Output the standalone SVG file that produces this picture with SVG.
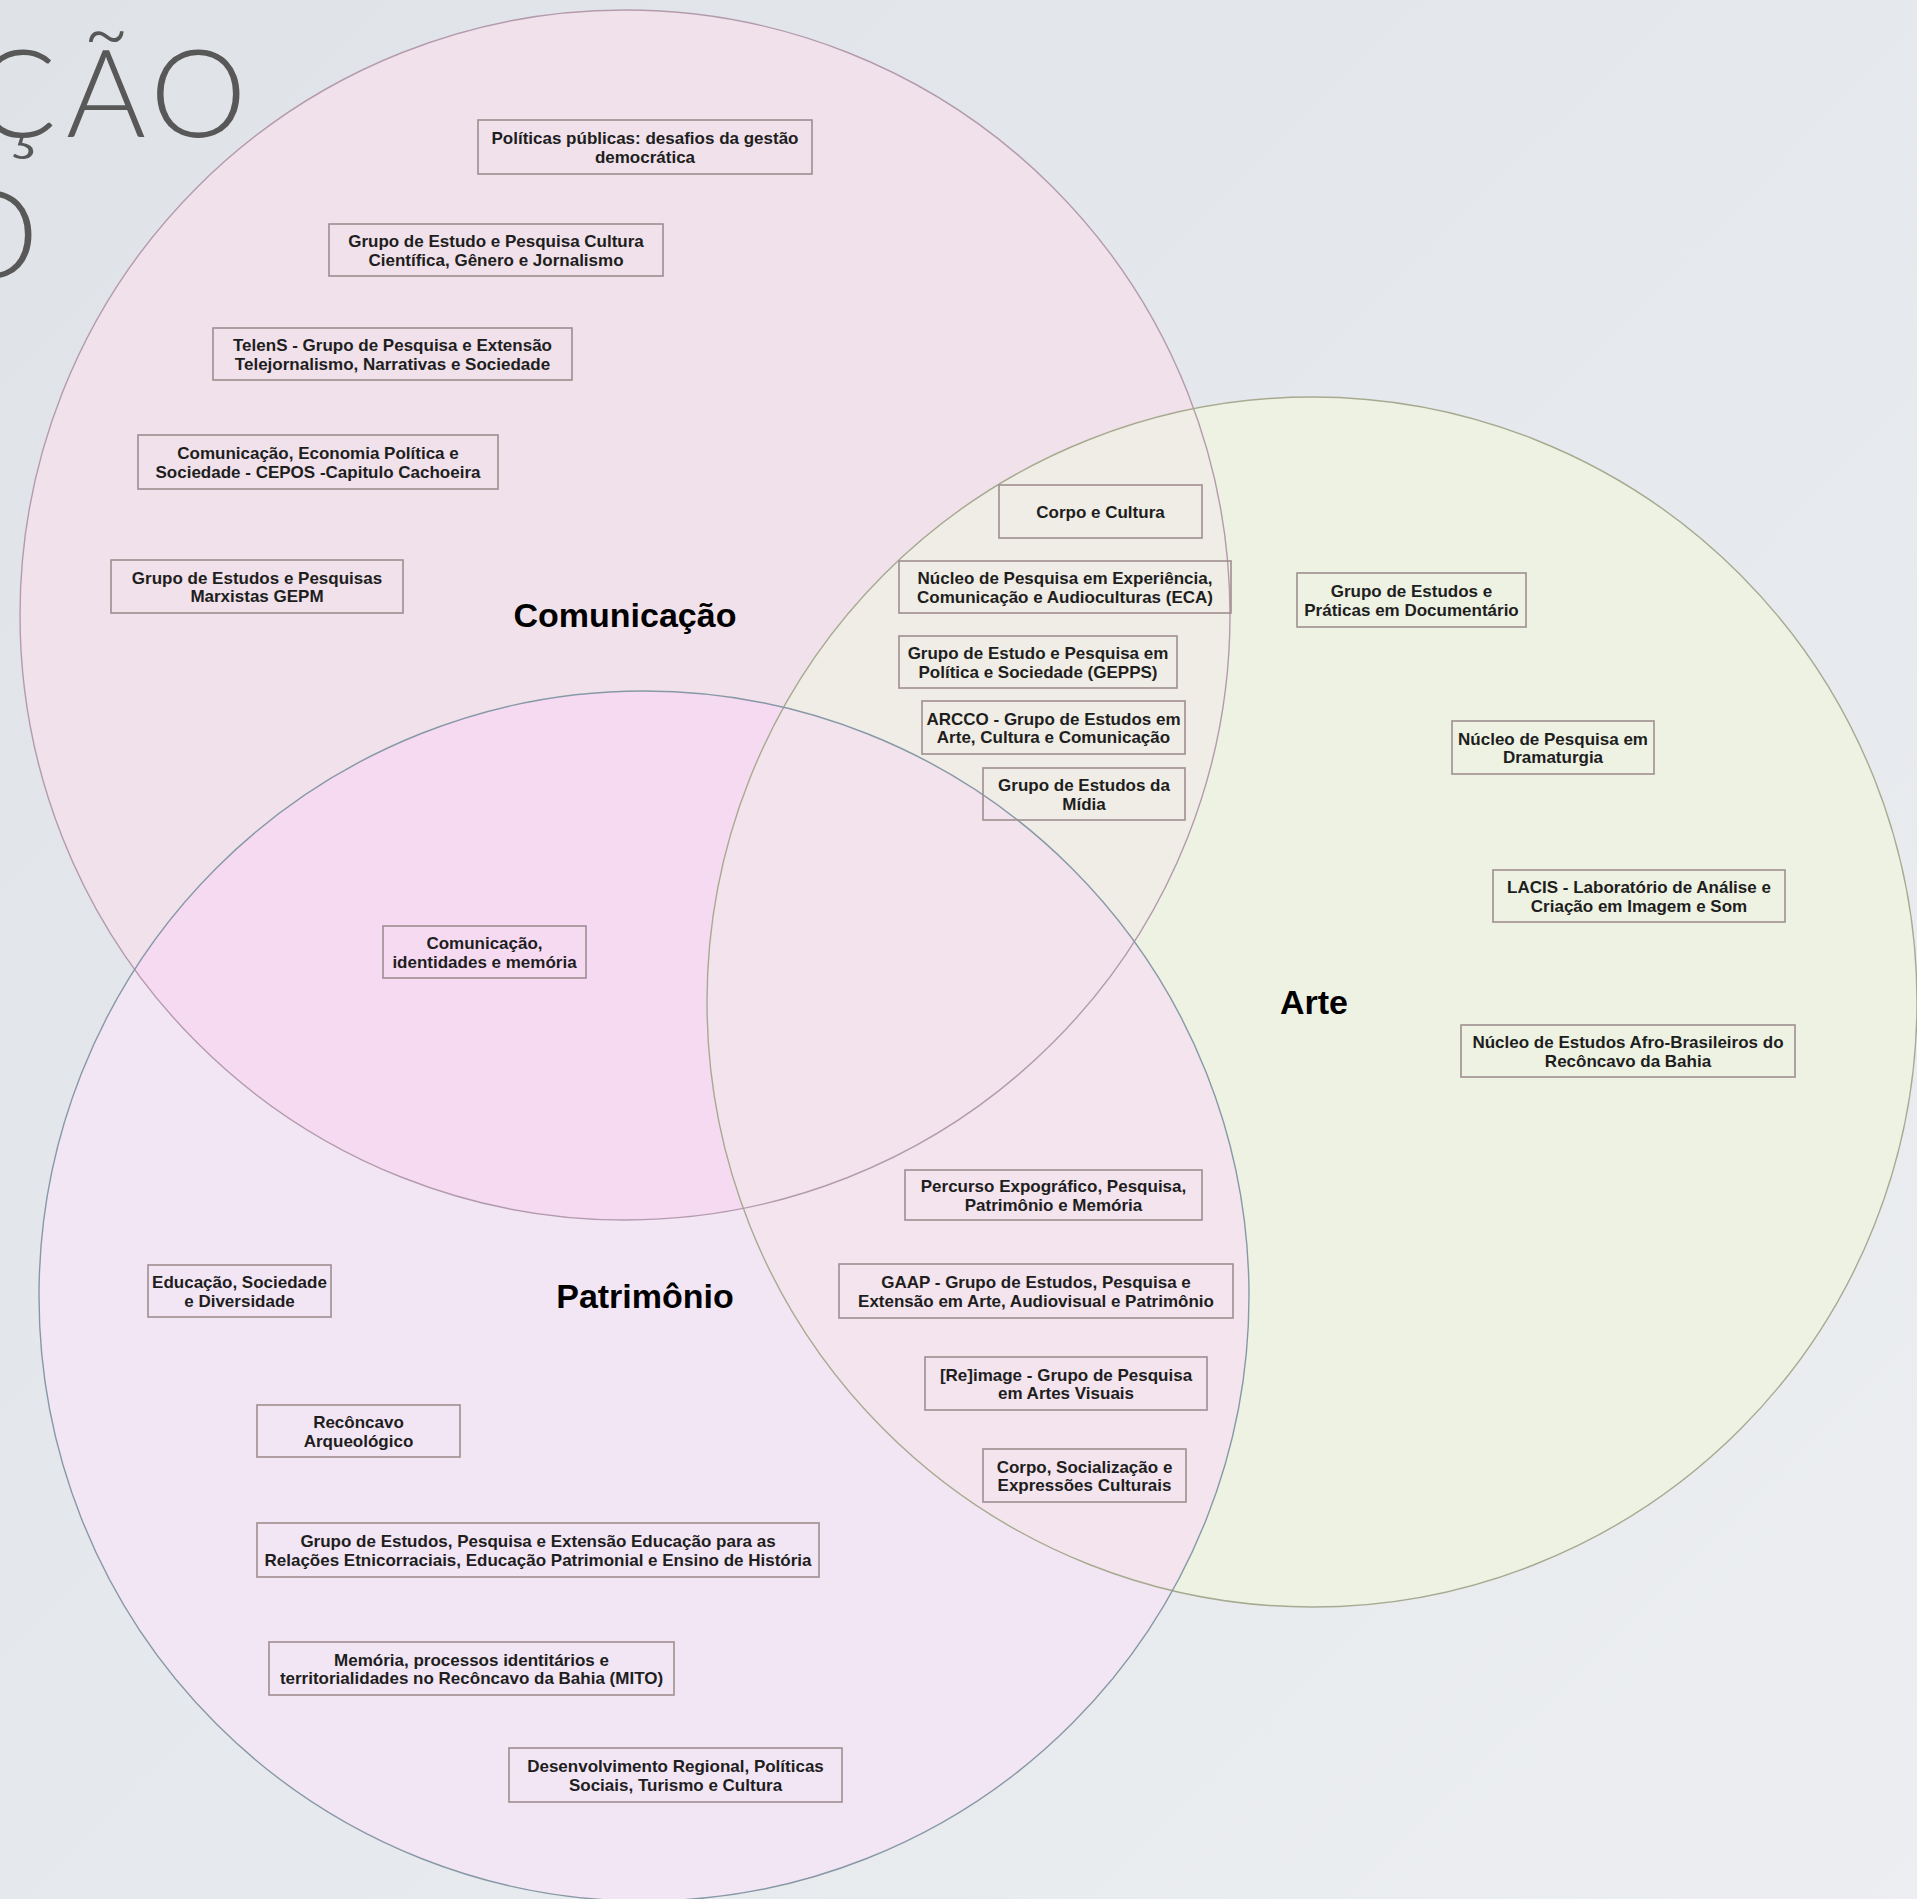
<svg xmlns="http://www.w3.org/2000/svg" width="1917" height="1899" viewBox="0 0 1917 1899">
<style>
.box rect{fill:none;stroke:#9f8e8f;stroke-width:1.6}
.box text{font-family:"Liberation Sans",Arial,sans-serif;font-weight:bold;font-size:17px;fill:#1e1e1e;text-anchor:middle}
.lbl{font-family:"Liberation Sans",Arial,sans-serif;font-weight:bold;font-size:34px;fill:#000;text-anchor:middle}
.title{font-family:Lato,"Open Sans",sans-serif;font-weight:300;font-size:122px;fill:#585858}
</style>
<defs>
<linearGradient id="bg" x1="0" y1="0" x2="1" y2="1">
<stop offset="0" stop-color="#dfe3e8"/>
<stop offset="1" stop-color="#eceef1"/>
</linearGradient>
<clipPath id="cCom"><circle cx="625" cy="615" r="605"/></clipPath>
<clipPath id="cArte"><circle cx="1312" cy="1002" r="605"/></clipPath>
</defs>
<rect width="1917" height="1899" fill="url(#bg)"/>
<g id="title">
<text class="title" y="137"><tspan x="-26">Ç</tspan><tspan x="66">Ã</tspan><tspan x="150">O</tspan></text>
<text class="title" x="-58" y="278">O</text>
</g>
<g id="sets">
<circle cx="625" cy="615" r="605" fill="#f0e1ea"/>
<circle cx="1312" cy="1002" r="605" fill="#eef2e3"/>
<circle cx="644" cy="1296" r="605" fill="#f3e6f4"/>
<circle cx="1312" cy="1002" r="605" fill="#efede5" clip-path="url(#cCom)"/>
<circle cx="644" cy="1296" r="605" fill="#f5daf2" clip-path="url(#cCom)"/>
<circle cx="644" cy="1296" r="605" fill="#f3e4ed" clip-path="url(#cArte)"/>
<g clip-path="url(#cCom)"><circle cx="644" cy="1296" r="605" fill="#f2e3ec" clip-path="url(#cArte)"/></g>
<circle cx="625" cy="615" r="605" fill="none" stroke="#b39bad" stroke-width="1.4"/>
<circle cx="1312" cy="1002" r="605" fill="none" stroke="#a7aa91" stroke-width="1.4"/>
<circle cx="644" cy="1296" r="605" fill="none" stroke="#8798a6" stroke-width="1.4"/>
</g>
<g id="connectors"/>
<g id="labels">
<text id="lbl-comunicacao" class="lbl" x="625" y="627">Comunicação</text>
<text id="lbl-arte" class="lbl" x="1314" y="1014">Arte</text>
<text id="lbl-patrimonio" class="lbl" x="645" y="1308">Patrimônio</text>
</g>
<g id="n1" class="box"><rect x="478" y="120" width="334" height="54"/><text x="645" y="144">Políticas públicas: desafios da gestão</text><text x="645" y="162.5">democrática</text></g>
<g id="n2" class="box"><rect x="329" y="224" width="334" height="52"/><text x="496" y="247">Grupo de Estudo e Pesquisa Cultura</text><text x="496" y="265.5">Científica, Gênero e Jornalismo</text></g>
<g id="n3" class="box"><rect x="213" y="328" width="359" height="52"/><text x="392.5" y="351">TelenS - Grupo de Pesquisa e Extensão</text><text x="392.5" y="369.5">Telejornalismo, Narrativas e Sociedade</text></g>
<g id="n4" class="box"><rect x="138" y="435" width="360" height="54"/><text x="318" y="459">Comunicação, Economia Política e</text><text x="318" y="477.5">Sociedade - CEPOS -Capitulo Cachoeira</text></g>
<g id="n5" class="box"><rect x="111" y="560" width="292" height="53"/><text x="257" y="583.5">Grupo de Estudos e Pesquisas</text><text x="257" y="602">Marxistas GEPM</text></g>
<g id="n6" class="box"><rect x="999" y="485" width="203" height="53"/><text x="1100.5" y="517.5">Corpo e Cultura</text></g>
<g id="n7" class="box"><rect x="899" y="561" width="332" height="52"/><text x="1065" y="584">Núcleo de Pesquisa em Experiência,</text><text x="1065" y="602.5">Comunicação e Audioculturas (ECA)</text></g>
<g id="n8" class="box"><rect x="899" y="636" width="278" height="52"/><text x="1038" y="659">Grupo de Estudo e Pesquisa em</text><text x="1038" y="677.5">Política e Sociedade (GEPPS)</text></g>
<g id="n9" class="box"><rect x="922" y="701" width="263" height="53"/><text x="1053.5" y="724.5">ARCCO - Grupo de Estudos em</text><text x="1053.5" y="743">Arte, Cultura e Comunicação</text></g>
<g id="n10" class="box"><rect x="983" y="768" width="202" height="52"/><text x="1084" y="791">Grupo de Estudos da</text><text x="1084" y="809.5">Mídia</text></g>
<g id="n11" class="box"><rect x="1297" y="573" width="229" height="54"/><text x="1411.5" y="597">Grupo de Estudos e</text><text x="1411.5" y="615.5">Práticas em Documentário</text></g>
<g id="n12" class="box"><rect x="1452" y="721" width="202" height="53"/><text x="1553" y="744.5">Núcleo de Pesquisa em</text><text x="1553" y="763">Dramaturgia</text></g>
<g id="n13" class="box"><rect x="1493" y="870" width="292" height="52"/><text x="1639" y="893">LACIS - Laboratório de Análise e</text><text x="1639" y="911.5">Criação em Imagem e Som</text></g>
<g id="n14" class="box"><rect x="1461" y="1025" width="334" height="52"/><text x="1628" y="1048">Núcleo de Estudos Afro-Brasileiros do</text><text x="1628" y="1066.5">Recôncavo da Bahia</text></g>
<g id="n15" class="box"><rect x="383" y="926" width="203" height="52"/><text x="484.5" y="949">Comunicação,</text><text x="484.5" y="967.5">identidades e memória</text></g>
<g id="n16" class="box"><rect x="905" y="1170" width="297" height="50"/><text x="1053.5" y="1192">Percurso Expográfico, Pesquisa,</text><text x="1053.5" y="1210.5">Patrimônio e Memória</text></g>
<g id="n17" class="box"><rect x="839" y="1264" width="394" height="54"/><text x="1036" y="1288">GAAP - Grupo de Estudos, Pesquisa e</text><text x="1036" y="1306.5">Extensão em Arte, Audiovisual e Patrimônio</text></g>
<g id="n18" class="box"><rect x="925" y="1357" width="282" height="53"/><text x="1066" y="1380.5">[Re]image - Grupo de Pesquisa</text><text x="1066" y="1399">em Artes Visuais</text></g>
<g id="n19" class="box"><rect x="983" y="1449" width="203" height="53"/><text x="1084.5" y="1472.5">Corpo, Socialização e</text><text x="1084.5" y="1491">Expressões Culturais</text></g>
<g id="n20" class="box"><rect x="148" y="1265" width="183" height="52"/><text x="239.5" y="1288">Educação, Sociedade</text><text x="239.5" y="1306.5">e Diversidade</text></g>
<g id="n21" class="box"><rect x="257" y="1405" width="203" height="52"/><text x="358.5" y="1428">Recôncavo</text><text x="358.5" y="1446.5">Arqueológico</text></g>
<g id="n22" class="box"><rect x="257" y="1523" width="562" height="54"/><text x="538" y="1547">Grupo de Estudos, Pesquisa e Extensão Educação para as</text><text x="538" y="1565.5">Relações Etnicorraciais, Educação Patrimonial e Ensino de História</text></g>
<g id="n23" class="box"><rect x="269" y="1642" width="405" height="53"/><text x="471.5" y="1665.5">Memória, processos identitários e</text><text x="471.5" y="1684">territorialidades no Recôncavo da Bahia (MITO)</text></g>
<g id="n24" class="box"><rect x="509" y="1748" width="333" height="54"/><text x="675.5" y="1772">Desenvolvimento Regional, Políticas</text><text x="675.5" y="1790.5">Sociais, Turismo e Cultura</text></g>
</svg>
